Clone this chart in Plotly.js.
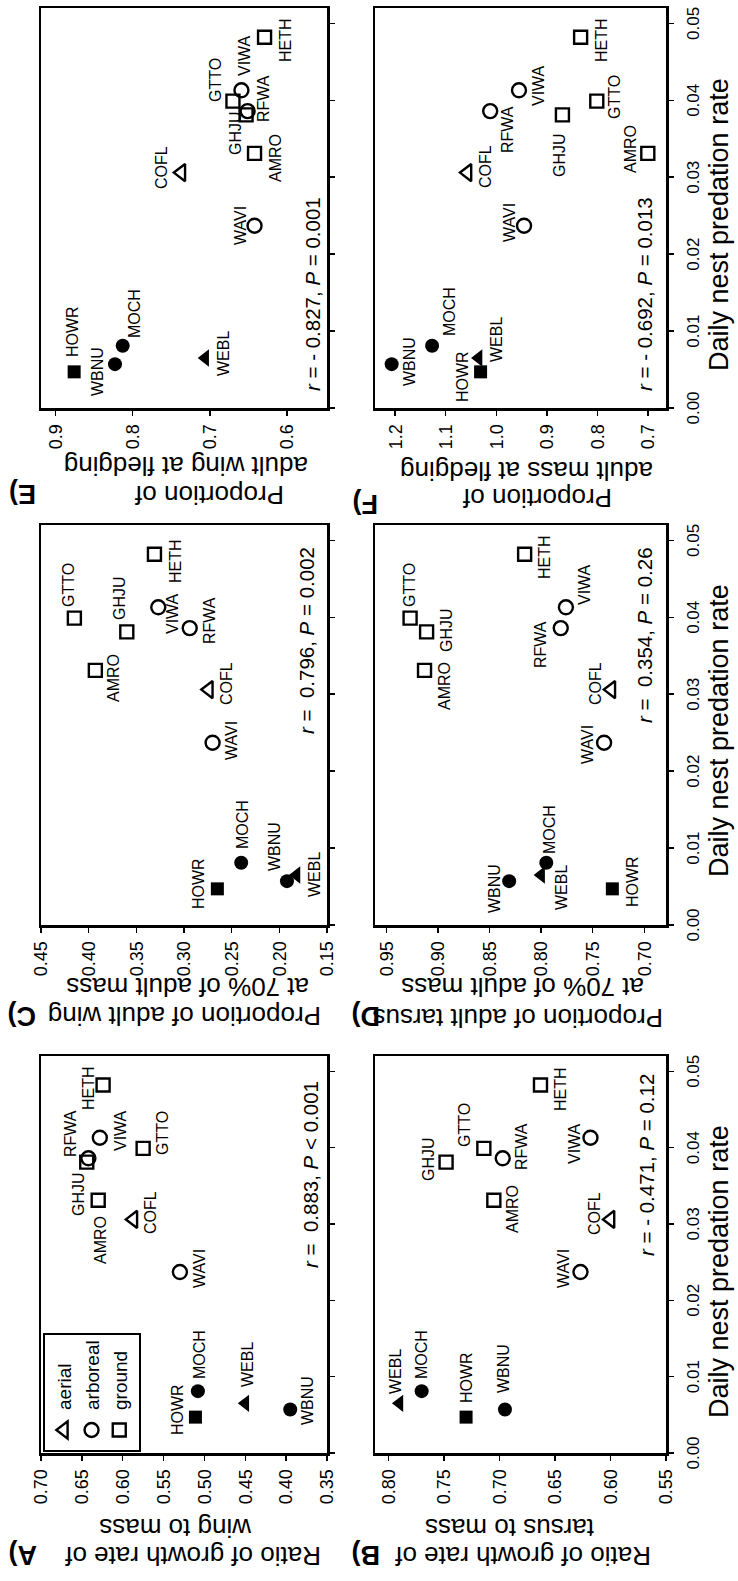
<!DOCTYPE html>
<html>
<head>
<meta charset="utf-8">
<script src="https://cdn.plot.ly/plotly-3.0.1.min.js"></script>
<style>
  html, body { margin:0; padding:0; width:738px; height:1581px; overflow:hidden; background:#fff; }
  #wrap { position:absolute; left:0; top:0; width:1581px; height:738px;
          transform-origin:0 0; transform:translate(0px,1581px) rotate(-90deg); }
  #chart { width:1581px; height:738px; }
</style>
</head>
<body>
<div id="wrap"><div id="chart"></div></div>
<script>
// ---------------- data ----------------
const species = ['HOWR','WBNU','WEBL','MOCH','WAVI','COFL','AMRO','GHJU','RFWA','GTTO','VIWA','HETH'];
const nestSite = ['ground','arboreal','aerial','arboreal','arboreal','aerial','ground','ground','arboreal','ground','arboreal','ground'];
const cavityNester = [true,true,true,true,false,false,false,false,false,false,false,false];
const predationRate = [0.0047,0.0057,0.0065,0.0081,0.0237,0.0306,0.0331,0.0381,0.0386,0.0399,0.0413,0.0482];

const ratioWingMass   = [0.511,0.395,0.450,0.508,0.530,0.587,0.630,0.644,0.642,0.575,0.628,0.624];
const ratioTarsusMass = [0.730,0.695,0.790,0.770,0.627,0.600,0.705,0.748,0.697,0.714,0.618,0.663];
const wingAt70Mass    = [0.265,0.192,0.182,0.240,0.270,0.274,0.393,0.360,0.294,0.415,0.327,0.331];
const tarsusAt70Mass  = [0.731,0.831,0.800,0.795,0.739,0.732,0.913,0.911,0.781,0.927,0.776,0.816];
const wingAtFledging  = [0.876,0.823,0.706,0.813,0.642,0.737,0.642,0.653,0.651,0.670,0.659,0.629];
const massAtFledging  = [1.031,1.207,1.035,1.127,0.945,1.057,0.700,0.869,1.012,0.801,0.955,0.833];

const legendGroups = ['aerial','arboreal','ground'];
const statsText = {
  A: '<i>r</i> =\u00a0 0.883, <i>P</i> &lt; 0.001',
  B: '<i>r</i> = - 0.471, <i>P</i> = 0.12',
  C: '<i>r</i> =\u00a0 0.796, <i>P</i> = 0.002',
  D: '<i>r</i> =\u00a0 0.354, <i>P</i> = 0.26',
  E: '<i>r</i> = - 0.827, <i>P</i> = 0.001',
  F: '<i>r</i> = - 0.692, <i>P</i> = 0.013'
};
const yTitles = {
  A: ['Ratio of growth rate of','wing to mass'],
  B: ['Ratio of growth rate of','tarsus to mass'],
  C: ['Proportion of adult wing','at 70% of adult mass'],
  D: ['Proportion of adult tarsus','at 70% of adult mass'],
  E: ['Proportion of','adult wing at fledging'],
  F: ['Proportion of','adult mass at fledging']
};
const xTitle = 'Daily nest predation rate';

// ---------------- styles / positions ----------------
const W = 1581, H = 738;
const FONT = 'Liberation Sans, Arial, Helvetica, sans-serif';
const px = u => u / W;
const py = v => 1 - v / H;

const baseSym = {aerial:'triangle-up', arboreal:'circle', ground:'square'};
const baseSize = {aerial:15, arboreal:14, ground:13};
const symbols = nestSite.map((n,i) => baseSym[n] + (cavityNester[i] ? '' : '-open'));
const sizes = nestSite.map(n => baseSize[n]);
const lineW = cavityNester.map(c => c ? 0 : 2.4);

// label offsets in px [xshift, yshift], order as species
const offA = [[7.5,18],[8.6,-17],[38.6,-2],[36.5,-2],[3.2,-20],[6.4,-17],[-39.7,-2],[-32.2,8],[24.7,18],[15,-19],[7.5,-21],[-3.2,15]];
const offB = [[39.7,0],[40.8,1],[32.2,4],[36.5,0],[3.2,17],[5.4,16],[-8.6,-19],[3.2,18],[11.8,-19],[23.6,19],[-5.4,16],[-4.3,-20]];
const offC = [[5.2,19],[35.1,12],[0,-18],[38.2,-1],[2.1,-19],[6.2,-18],[-7.2,-18],[34.1,7],[7.2,-20],[33,6],[-6.2,-14],[-7.2,-21]];
const offD = [[7.2,-20],[-7.2,15],[-12.4,-20],[33,-3],[-2.1,17],[6.2,16],[-15.5,-20],[2.1,-20],[-16.5,20],[33,1],[22.7,-19],[-3.1,-20]];
const offE = [[40,2],[-7,18],[4,-18],[32,-12],[0,14],[5,20],[-5,-21],[-18,11],[13,-16],[21,17],[35,-3],[-3,-21]];
const offF = [[-5,18],[3,-18],[18,-18],[34,-17],[3,15],[6,-18],[4,17],[-40,3],[-18,-17],[4,-18],[5,-20],[-3,-21]];

const panels = [
  {key:'A', ax:'', y:ratioWingMass, off:offA, xd:[128,525], vd:[41,327], range:[0.35,0.70], dtick:0.05, fmt:'.2f', tick0:0.35,
   stat:{x:0.942, anchor:'right', ys:3.5}, bottomRow:false, t1:[25,193], t2:[53,176], lab:[26,23]},
  {key:'B', ax:'2', y:ratioTarsusMass, off:offB, xd:[128,525], vd:[375,666], range:[0.55,0.812], dtick:0.05, fmt:'.2f', tick0:0.55,
   stat:{x:0.96, anchor:'right', ys:6}, bottomRow:true, t1:[25,523], t2:[53,510], lab:[26,366], xt:309},
  {key:'C', ax:'3', y:wingAt70Mass, off:offC, xd:[656,1056], vd:[41,327], range:[0.15,0.45], dtick:0.05, fmt:'.2f', tick0:0.15,
   stat:{x:0.95, anchor:'right', ys:7}, bottomRow:false, t1:[565,185], t2:[594,188], lab:[565,22]},
  {key:'D', ax:'4', y:tarsusAt70Mass, off:offD, xd:[656,1056], vd:[375,666], range:[0.679,0.961], dtick:0.05, fmt:'.2f', tick0:0.70,
   stat:{x:0.95, anchor:'right', ys:8}, bottomRow:true, t1:[563,518], t2:[594,523], lab:[565,366], xt:850},
  {key:'E', ax:'5', y:wingAtFledging, off:offE, xd:[1173,1573], vd:[41,327], range:[0.548,0.919], dtick:0.1, fmt:'.1f', tick0:0.6,
   stat:{x:0.0375, anchor:'left', ys:1}, bottomRow:false, t1:[1086,209], t2:[1115,186], lab:[1087,23]},
  {key:'F', ax:'6', y:massAtFledging, off:offF, xd:[1173,1573], vd:[375,666], range:[0.664,1.24], dtick:0.1, fmt:'.1f', tick0:0.7,
   stat:{x:0.0375, anchor:'left', ys:8}, bottomRow:true, t1:[1083,537], t2:[1110,527], lab:[1077,366], xt:1356}
];

const data = [];
const layout = {
  width: W, height: H,
  margin: {l:0, r:0, t:0, b:0, pad:0},
  paper_bgcolor: '#fff', plot_bgcolor: '#fff',
  font: {family: FONT, color: '#000', size: 16},
  showlegend: true,
  legend: {
    x: px(129), y: py(43), xanchor:'left', yanchor:'top',
    bordercolor:'#000', borderwidth:2, bgcolor:'#fff',
    font:{family:FONT, size:19, color:'#000'},
    tracegroupgap:0, itemsizing:'trace'
  },
  annotations: []
};

panels.forEach(p => {
  const xa = 'xaxis' + p.ax, ya = 'yaxis' + p.ax;
  const xr = 'x' + p.ax, yr = 'y' + p.ax;
  layout[xa] = {
    domain:[px(p.xd[0]), px(p.xd[1])], range:[0, 0.052], anchor: yr,
    tick0:0, dtick:0.01, tickformat:'.2f', showticklabels: p.bottomRow,
    ticks:'outside', ticklen:5, tickwidth:1.5, tickcolor:'#000',
    tickfont:{family:FONT, size:17, color:'#000'}, ticklabelstandoff: 5,
    showline:true, linecolor:'#000', linewidth:2.5, mirror:true,
    showgrid:false, zeroline:false, fixedrange:true
  };
  layout[ya] = {
    domain:[py(p.vd[1]), py(p.vd[0])], range:p.range, anchor: xr,
    tick0:p.tick0, dtick:p.dtick, tickformat:p.fmt,
    ticks:'outside', ticklen:5, tickwidth:1.5, tickcolor:'#000',
    tickfont:{family:FONT, size:18, color:'#000'}, ticklabelstandoff: 5,
    showline:true, linecolor:'#000', linewidth:2.5, mirror:true,
    showgrid:false, zeroline:false, fixedrange:true
  };
  data.push({
    type:'scatter', mode:'markers', xaxis:xr, yaxis:yr,
    x: predationRate, y: p.y,
    marker:{symbol:symbols, size:sizes, color:'#000', opacity:1, line:{color:'#000', width:lineW}},
    cliponaxis:false, showlegend:false, hoverinfo:'skip'
  });
  // species labels
  species.forEach((s, i) => {
    layout.annotations.push({
      xref: xr, yref: yr, x: predationRate[i], y: p.y[i],
      xshift: p.off[i][0], yshift: p.off[i][1],
      xanchor:'center', yanchor:'middle', showarrow:false,
      text: s, font:{family:FONT, size:16, color:'#000'}
    });
  });
  // stats
  layout.annotations.push({
    xref: xr + ' domain', yref: yr + ' domain', x: p.stat.x, y: 0,
    xanchor: p.stat.anchor, yanchor:'bottom', yshift: p.stat.ys,
    text: statsText[p.key], showarrow:false,
    font:{family:FONT, size:20.5, color:'#000'}
  });
  // y titles
  [p.t1, p.t2].forEach((t, i) => {
    layout.annotations.push({
      xref:'paper', yref:'paper', x: px(t[0]), y: py(t[1]),
      xanchor:'center', yanchor:'middle', textangle:-90,
      text: yTitles[p.key][i], showarrow:false,
      font:{family:FONT, size:26, color:'#000'}
    });
  });
  // panel label
  layout.annotations.push({
    xref:'paper', yref:'paper', x: px(p.lab[0]), y: py(p.lab[1]),
    xanchor:'center', yanchor:'middle', textangle:-90,
    text: '<b>' + p.key + ')</b>', showarrow:false,
    font:{family:FONT, size:27, color:'#000'}
  });
  // x title on bottom row
  if (p.bottomRow) {
    layout.annotations.push({
      xref:'paper', yref:'paper', x: px(p.xt), y: py(719),
      xanchor:'center', yanchor:'middle',
      text: xTitle, showarrow:false,
      font:{family:FONT, size:27, color:'#000'}
    });
  }
});

// legend entries (panel A)
legendGroups.forEach(g => {
  data.push({
    type:'scatter', mode:'markers', xaxis:'x', yaxis:'y',
    x:[null], y:[null], name:g,
    marker:{symbol: baseSym[g] + '-open', size: baseSize[g], color:'#000', line:{color:'#000', width:2.4}},
    showlegend:true, hoverinfo:'skip'
  });
});

Plotly.newPlot('chart', data, layout, {staticPlot:true, displayModeBar:false});
</script>
</body>
</html>
